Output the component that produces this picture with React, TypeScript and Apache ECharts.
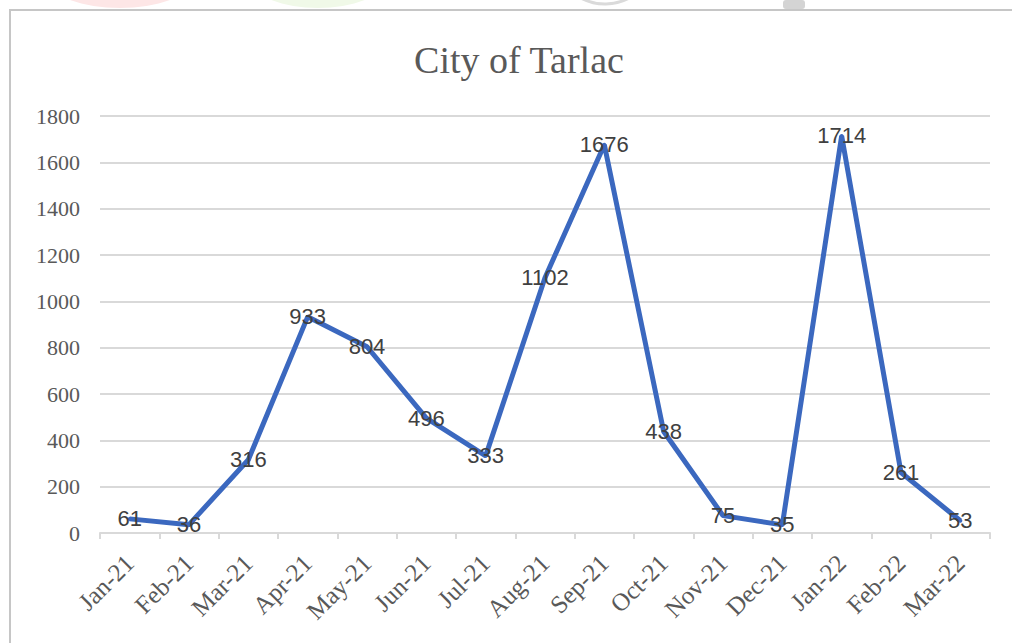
import React, { useEffect, useRef } from "react";
import * as echarts from "echarts";

const months = [
  "Jan-21", "Feb-21", "Mar-21", "Apr-21", "May-21", "Jun-21", "Jul-21", "Aug-21",
  "Sep-21", "Oct-21", "Nov-21", "Dec-21", "Jan-22", "Feb-22", "Mar-22",
];
const cases = [61, 36, 316, 933, 804, 496, 333, 1102, 1676, 438, 75, 35, 1714, 261, 53];
const yTicks = { min: 0, max: 1800, interval: 200 };
const chartTitle = "City of Tarlac";

export default function App() {
  const ref = useRef<HTMLDivElement>(null);

  useEffect(() => {
    if (!ref.current) return;
    const chart = echarts.init(ref.current, undefined, { renderer: "svg" });
    const serif = "'Liberation Serif', 'DejaVu Serif', serif";
    chart.setOption({
      animation: false,
      backgroundColor: "#ffffff",
      graphic: [
        // faint decorative shapes along the top edge
        { type: "ellipse", shape: { cx: 120, cy: -42, rx: 92, ry: 50 }, style: { fill: "#fde6e6" }, silent: true },
        { type: "rect", shape: { x: 201, y: 0, width: 34, height: 10 }, style: { fill: "#ffffff" }, silent: true },
        { type: "ellipse", shape: { cx: 318, cy: -42, rx: 86, ry: 50 }, style: { fill: "#f0f9e8" }, silent: true },
        { type: "arc", shape: { cx: 605, cy: -48, r: 52, startAngle: 0.55, endAngle: 2.55 }, style: { stroke: "#dadada", lineWidth: 3, fill: "none" }, silent: true },
        { type: "rect", shape: { x: 783, y: 0, width: 22, height: 9, r: 3 }, style: { fill: "#d4d4d4" }, silent: true },
        // frame
        { type: "rect", shape: { x: 0, y: 10, width: 1012, height: 2 }, style: { fill: "#ffffff" }, silent: true },
        { type: "line", shape: { x1: 9, y1: 10, x2: 1012, y2: 10 }, style: { stroke: "#c6c6c6", lineWidth: 2 }, silent: true },
        { type: "line", shape: { x1: 10, y1: 10, x2: 10, y2: 643 }, style: { stroke: "#c6c6c6", lineWidth: 2 }, silent: true },
        {
          type: "text",
          x: 519,
          y: 60,
          style: {
            text: chartTitle,
            fill: "#595959",
            font: `38px ${serif}`,
            textAlign: "center",
            textVerticalAlign: "middle",
          },
        },
      ],
      grid: { left: 100, right: 22, top: 116, bottom: 110, containLabel: false },
      xAxis: {
        type: "category",
        data: months,
        boundaryGap: true,
        axisLine: { lineStyle: { color: "#d9d9d9", width: 2 } },
        axisTick: { show: true, interval: 0, length: 6, lineStyle: { color: "#d9d9d9", width: 2 } },
        axisLabel: {
          interval: 0,
          rotate: 45,
          margin: 26,
          color: "#595959",
          fontFamily: serif,
          fontSize: 25,
        },
      },
      yAxis: {
        type: "value",
        min: yTicks.min,
        max: yTicks.max,
        interval: yTicks.interval,
        axisLine: { show: false },
        axisTick: { show: false },
        splitLine: { lineStyle: { color: "#d9d9d9", width: 2 } },
        axisLabel: {
          margin: 20,
          color: "#595959",
          fontFamily: serif,
          fontSize: 22,
          formatter: (v: number) => String(v),
        },
      },
      series: [
        {
          type: "line",
          data: cases,
          symbol: "circle",
          symbolSize: 4,
          showSymbol: true,
          itemStyle: { color: "#3b68bf" },
          lineStyle: { color: "#3b68bf", width: 5 },
          label: {
            show: true,
            position: "inside",
            color: "#404040",
            fontFamily: "'Liberation Sans', Arial, sans-serif",
            fontSize: 22,
          },
        },
      ],
    });
    return () => chart.dispose();
  }, []);

  return (
    <div
      ref={ref}
      style={{ position: "fixed", left: 0, top: 0, width: 1012, height: 643 }}
    />
  );
}
